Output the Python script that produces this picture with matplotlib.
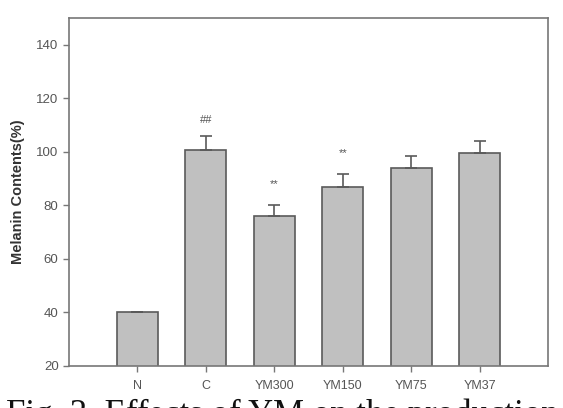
import matplotlib
matplotlib.use("Agg")
import matplotlib.pyplot as plt

categories = ["N", "C", "YM300", "YM150", "YM75", "YM37"]
values = [40.0, 100.7, 76.2, 87.0, 94.1, 99.7]
errors = [0.3, 5.3, 3.8, 4.9, 4.5, 4.5]
marks = ["", "##", "**", "**", "", ""]
mark_y = [None, 112, 88, 99.5, None, None]
caption = "Fig. 3. Effects of YM on the production"

plt.rcParams['font.family'] = ['Liberation Sans', 'DejaVu Sans']
fig = plt.figure(figsize=(5.63, 4.08), dpi=100)
ax = fig.add_axes([69/563, 1 - 366/408, (548-69)/563, (366-18)/408])

gray_edge = '#5a5a5a'
pos = list(range(1, len(categories) + 1))
ax.bar(pos, values, width=0.6, color='#c0c0c0', edgecolor=gray_edge, linewidth=1.2, zorder=2)
ax.errorbar(pos, values, yerr=[[0]*len(errors), errors], fmt='none', ecolor=gray_edge,
            elinewidth=1.2, capsize=4, capthick=1.2, zorder=3)
for p, m, y in zip(pos, marks, mark_y):
    if m:
        ax.text(p, y, m, ha='center', va='center', fontsize=8, color='#555555')

ax.set_xlim(0, 7)
ax.set_ylim(20, 150)
ax.set_yticks([20, 40, 60, 80, 100, 120, 140])
ax.set_xticks(pos)
ax.set_xticklabels(categories)
for s in ax.spines.values():
    s.set_color('#777777')
    s.set_linewidth(1.2)
ax.tick_params(axis='both', direction='out', colors='#777777', labelcolor='#555555',
               labelsize=9.5, length=4, width=1)
ax.tick_params(axis='x', pad=6, labelsize=9)
ax.set_ylabel("Melanin Contents(%)", fontsize=10.5, fontweight='bold', color='#333333', labelpad=8)

fig.text(6/563, 1 - 399/408, caption,
         family=['Liberation Serif', 'DejaVu Serif'], fontsize=25, va='top', ha='left', color='#111111')

fig.savefig("out.png", dpi=100)
